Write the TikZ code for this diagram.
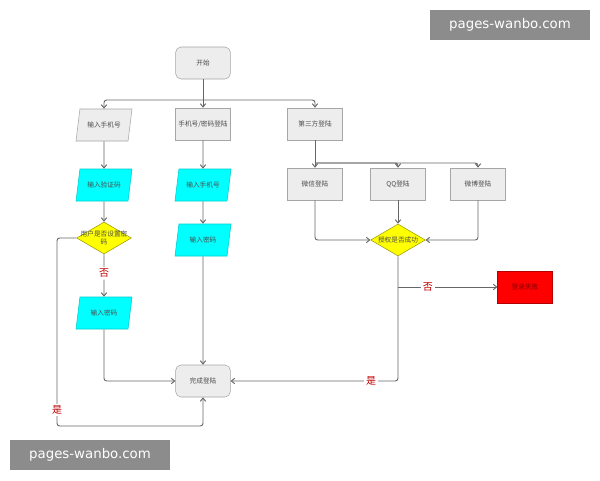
\documentclass[tikz,border=0pt]{standalone}
\usepackage{fontspec}
\newfontfamily\cjk{Noto Sans CJK SC}
\setsansfont{DejaVu Sans}
\usetikzlibrary{shapes.geometric,arrows.meta}
\definecolor{cy}{RGB}{0,255,255}
\definecolor{yl}{RGB}{255,255,0}
\definecolor{rd}{RGB}{255,0,0}
\begin{document}
\begin{tikzpicture}[x=0.75pt,y=-0.75pt,
  every node/.style={font=\cjk\fontsize{5}{5.5}\selectfont,text=black!70},
  box/.style={draw=black!35,fill=black!7,minimum width=41pt,minimum height=24pt,inner sep=1pt},
  rbox/.style={box,rounded corners=4pt},
  para/.style={trapezium,trapezium left angle=66,trapezium right angle=114,draw=black!35,fill=black!7,minimum width=42pt,minimum height=24pt,inner sep=1pt,trapezium stretches body},
  cpara/.style={para,fill=cy,draw=cy!80!black},
  dia/.style={diamond,draw=yl!60!black,fill=yl,aspect=1.7,inner sep=-3pt,minimum width=41pt,minimum height=24pt,align=center},
  lab/.style={font=\cjk\fontsize{7.5}{8}\selectfont,text=red!75!black,fill=white,inner sep=1.5pt},
  ln/.style={draw=black!60,line width=0.7pt,rounded corners=2pt},
  ar/.style={ln,-{Straight Barb[length=2.5pt,width=4pt]}},
  wm/.style={fill=black!45,text=white,font=\fontsize{10}{12}\selectfont\sffamily,minimum width=120pt,minimum height=22pt}]
\useasboundingbox[fill=white] (0,0) rectangle (600,480);
\node[rbox] (start) at (203,63) {开始};
\node[para] (p1) at (104,125) {输入手机号};
\node[box] (p2) at (203,124) {手机号/密码登陆};
\node[box] (p3) at (315,124) {第三方登陆};
\node[cpara] (c1) at (104,185) {输入验证码};
\node[cpara] (c2) at (203,185) {输入手机号};
\node[dia] (d1) at (104,238) {用户是否设置密\\码};
\node[cpara] (c3) at (203,240) {输入密码};
\node[cpara] (c4) at (104,313) {输入密码};
\node[rbox] (done) at (203,381) {完成登陆};
\node[box] (wx) at (315,184) {微信登陆};
\node[box] (qq) at (398,184) {QQ登陆};
\node[box] (wb) at (478,184) {微博登陆};
\node[dia] (d2) at (398,240) {授权是否成功};
\node[box,fill=rd,draw=red!70!black,text=red!50!black] (fail) at (525,287) {登录失败};
\coordinate (b1) at (203,100);
\draw[ar] (start) -- (p2);
\draw[ar] (b1) -| (p1);
\draw[ar] (b1) -| (p3);
\draw[ar] (p1) -- (c1);
\draw[ar] (c1) -- (d1);
\draw[ar] (p2) -- (c2);
\draw[ar] (c2) -- (c3);
\draw[ar] (c3) -- (done);
\draw[ar] (d1) -- node[lab,pos=0.45]{否} (c4);
\draw[ar] (c4) |- (done);
\draw[ar] (d1.west) -| (57,426) -| (done.south);
\node[lab] at (57,410) {是};
\coordinate (b2) at (315,163);
\draw[ar] (p3) -- (wx);
\draw[ar] (b2) -| (qq);
\draw[ar] (b2) -| (wb);
\draw[ar] (wx) |- (d2);
\draw[ar] (wb) |- (d2);
\draw[ar] (qq) -- (d2);
\draw[ar] (d2) |- node[lab,pos=0.58]{是} (done);
\coordinate (s) at (398,287);
\draw[ar] (s) -- node[lab,pos=0.3]{否} (fail);
\node[wm] (w1) at (510,25) {pages-wanbo.com};
\node[wm] (w2) at (90,455) {pages-wanbo.com};
\end{tikzpicture}
\end{document}
